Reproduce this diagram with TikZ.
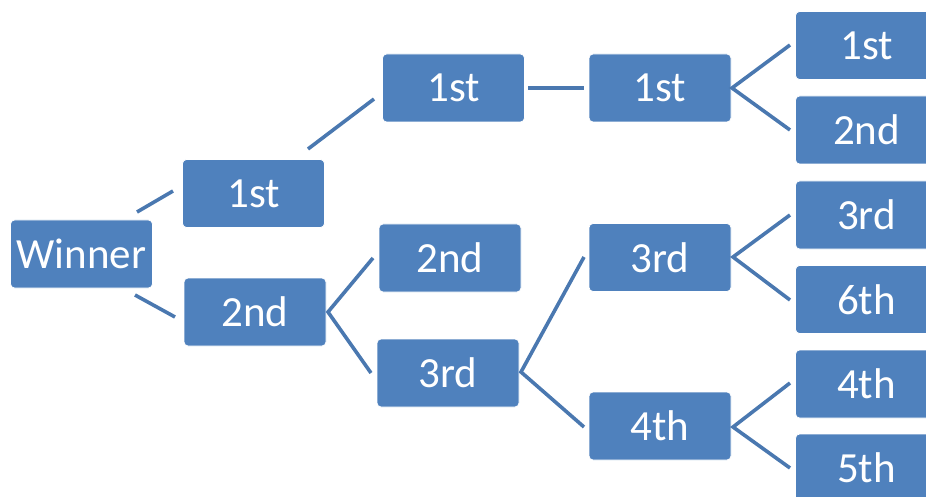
\documentclass[tikz,border=0pt]{standalone}
\usepackage{fontspec}
\setmainfont{Carlito}
\definecolor{boxblue}{HTML}{4F81BD}
\definecolor{lineblue}{HTML}{4A78B0}
\begin{document}
\begin{tikzpicture}[x=1pt,y=-1pt,
  box/.style={rectangle, rounded corners=4pt, fill=boxblue, draw=white, line width=0.8pt,
    minimum width=142pt, minimum height=68pt, text=white, inner sep=0pt,
    font=\fontsize{43}{46}\selectfont},
  conn/.style={draw=lineblue, line width=3.6pt}]
\useasboundingbox (0,0) rectangle (926,497);
\node[box] (W) at (81.5,254) {Winner};
\node[box] (A1) at (253.5,193.5) {1st};
\node[box] (A2) at (255,312) {2nd};
\node[box] (B1) at (453.5,88) {1st};
\node[box] (B2) at (450,258) {2nd};
\node[box] (B3) at (448,373) {3rd};
\node[box] (C1) at (660,88) {1st};
\node[box] (C3) at (660,257.5) {3rd};
\node[box] (C4) at (660,426) {4th};
\node[box] (D1) at (866.5,45.5) {1st};
\node[box] (D2) at (866.5,130) {2nd};
\node[box] (D3) at (866.5,215) {3rd};
\node[box] (D6) at (866.5,299.5) {6th};
\node[box] (D4) at (866.5,384) {4th};
\node[box] (D5) at (866.5,468) {5th};
% connector end points
\coordinate (wa1s) at (137,212); \coordinate (wa1e) at (173,191);
\coordinate (wa2s) at (135,295); \coordinate (wa2e) at (175,317);
\coordinate (a1b1s) at (308,149); \coordinate (a1b1e) at (374,99);
\coordinate (b1c1s) at (528,88); \coordinate (b1c1e) at (584,88);
\coordinate (a2x) at (328,312); \coordinate (b2e) at (373,258); \coordinate (b3e) at (371,373);
\coordinate (b3x) at (521,372); \coordinate (c3e) at (584,257); \coordinate (c4e) at (584,427);
\coordinate (c1x) at (732,88); \coordinate (d1e) at (790,45); \coordinate (d2e) at (790,130);
\coordinate (c3x) at (733,257); \coordinate (d3e) at (790,215); \coordinate (d6e) at (790,300);
\coordinate (c4x) at (733,427); \coordinate (d4e) at (790,383); \coordinate (d5e) at (790,468);
\draw[conn] (wa1s) -- (wa1e);
\draw[conn] (wa2s) -- (wa2e);
\draw[conn] (a1b1s) -- (a1b1e);
\draw[conn] (b1c1s) -- (b1c1e);
\draw[conn] (b2e) -- (a2x) -- (b3e);
\draw[conn] (c3e) -- (b3x) -- (c4e);
\draw[conn] (d1e) -- (c1x) -- (d2e);
\draw[conn] (d3e) -- (c3x) -- (d6e);
\draw[conn] (d4e) -- (c4x) -- (d5e);
\end{tikzpicture}
\end{document}
